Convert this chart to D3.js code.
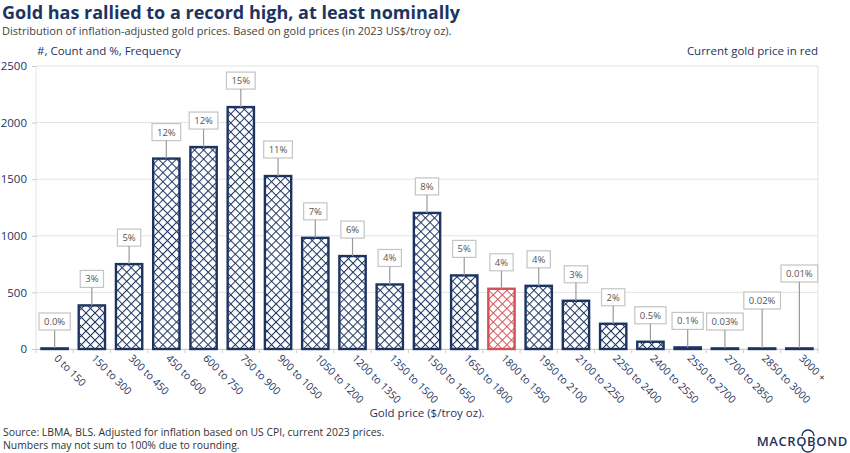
<!DOCTYPE html>
<html><head><meta charset="utf-8">
<script src="https://cdn.jsdelivr.net/npm/d3@7"></script>
<style>
html,body{margin:0;padding:0;background:#fff;}
svg{display:block;font-family:"Open Sans","Noto Sans",sans-serif;}
</style></head>
<body><svg id="c" width="850" height="453"></svg>
<script>
const categories = ["0 to 150","150 to 300","300 to 450","450 to 600","600 to 750","750 to 900","900 to 1050","1050 to 1200","1200 to 1350","1350 to 1500","1500 to 1650","1650 to 1800","1800 to 1950","1950 to 2100","2100 to 2250","2250 to 2400","2400 to 2550","2550 to 2700","2700 to 2850","2850 to 3000","3000 +"];
const counts = [4, 385, 750, 1682, 1784, 2137, 1528, 982, 821, 570, 1202, 650, 532, 558, 426, 223, 64, 14, 4, 3, 2];
const freqLabels = ["0.0%","3%","5%","12%","12%","15%","11%","7%","6%","4%","8%","5%","4%","4%","3%","2%","0.5%","0.1%","0.03%","0.02%","0.01%"];
const yTicks = [0, 500, 1000, 1500, 2000, 2500];
const currentCategory = "1800 to 1950";
</script>
<script>
(function(){
// extra label lift for crowded tail labels (styling)
const extraLift = {"2850 to 3000":21, "3000 +":48};

const svg = d3.select("#c");
const navy = "#1d3461", red = "#d4515a", grid = "#e3e3e3";
const L = 36, R = 818, T = 66, B = 349;

const defs = svg.append("defs");
function pat(id, col){
  const s = 6.4;
  const p = defs.append("pattern").attr("id",id).attr("patternUnits","userSpaceOnUse")
    .attr("width",s).attr("height",s).attr("patternTransform","rotate(45)");
  p.append("rect").attr("width",s).attr("height",s).attr("fill","#fff");
  p.append("line").attr("x1",0).attr("y1",0).attr("x2",0).attr("y2",s).attr("stroke",col).attr("stroke-width",2);
  p.append("line").attr("x1",0).attr("y1",0).attr("x2",s).attr("y2",0).attr("stroke",col).attr("stroke-width",2);
}
pat("hn", navy); pat("hr", red);

const x = d3.scaleBand().domain(categories).range([L,R]).paddingInner(0.24).paddingOuter(0.12);
const y = d3.scaleLinear().domain([0,2500]).range([B,T]);

// title
svg.append("text").attr("x",2).attr("y",19).attr("fill",navy).attr("font-size",18).attr("font-weight",700)
  .text("Gold has rallied to a record high, at least nominally");
svg.append("text").attr("x",2).attr("y",35).attr("fill","#444").attr("font-size",11)
  .text("Distribution of inflation-adjusted gold prices. Based on gold prices (in 2023 US$/troy oz).");
svg.append("text").attr("x",37).attr("y",55).attr("fill",navy).attr("font-size",11.5)
  .text("#, Count and %, Frequency");
svg.append("text").attr("x",R).attr("y",55).attr("text-anchor","end").attr("fill",navy).attr("font-size",11.5)
  .text("Current gold price in red");

// gridlines
svg.append("g").selectAll("line").data(yTicks).join("line")
  .attr("x1",L).attr("x2",R).attr("y1",d=>y(d)).attr("y2",d=>y(d)).attr("stroke",grid).attr("stroke-width",1);
svg.append("line").attr("x1",L).attr("x2",L).attr("y1",T).attr("y2",B).attr("stroke",grid);
svg.append("line").attr("x1",R).attr("x2",R).attr("y1",T).attr("y2",B).attr("stroke",grid);

// y axis
const ya = svg.append("g").attr("transform",`translate(${L},0)`)
  .call(d3.axisLeft(y).tickValues(yTicks).tickSize(4).tickPadding(5).tickFormat(d3.format("d")));
ya.select(".domain").remove();
ya.selectAll(".tick line").attr("stroke","#ccc");
ya.selectAll("text").attr("fill",navy).attr("font-size",11.5).attr("font-family","'Open Sans',sans-serif");

// x axis
const step = x.step();
const xa = svg.append("g").attr("transform",`translate(0,${B})`)
  .call(d3.axisBottom(x).tickSize(0).tickPadding(0));
xa.select(".domain").attr("stroke","#ccc");
xa.selectAll(".tick text").attr("fill",navy).attr("font-size",10.5).attr("font-family","'Open Sans',sans-serif")
  .attr("text-anchor","start").attr("dy",0).attr("transform","translate(-1,10) rotate(45)");
// boundary ticks
const x0 = x(categories[0]) - step*x.paddingInner()/2;
svg.append("g").selectAll("line").data(d3.range(categories.length+1)).join("line")
  .attr("x1",i=>x0 + i*step).attr("x2",i=>x0 + i*step)
  .attr("y1",B).attr("y2",B+4).attr("stroke","#ccc");

// bars
const isCur = d=>d===currentCategory;
svg.append("g").selectAll("rect").data(categories).join("rect")
  .attr("x",d=>x(d)+1).attr("width",x.bandwidth()-2)
  .attr("y",(d,i)=>Math.min(y(counts[i]), B-0.6)).attr("height",(d,i)=>Math.max(B-y(counts[i]),0.6))
  .attr("fill",d=>isCur(d)?"url(#hr)":"url(#hn)")
  .attr("stroke",d=>isCur(d)?red:navy).attr("stroke-width",2.4);

// labels
const lg = svg.append("g");
categories.forEach((d,i)=>{
  const cx = x(d)+x.bandwidth()/2;
  const top = Math.min(y(counts[i]), B-1);
  const boxB = top - 18 - (extraLift[d]||0);
  const boxH = 17;
  lg.append("line").attr("x1",cx).attr("x2",cx).attr("y1",top).attr("y2",boxB).attr("stroke","#9a9a9a").attr("stroke-width",1.2);
  const t = lg.append("text").attr("x",cx).attr("y",boxB-5).attr("text-anchor","middle")
    .attr("fill","#555").attr("font-size",9.5).text(freqLabels[i]);
  const w = t.node().getComputedTextLength()+10;
  lg.insert("rect","text").attr("x",cx-w/2).attr("y",boxB-boxH).attr("width",w).attr("height",boxH)
    .attr("fill","#fff").attr("stroke","#c4c4c4").attr("stroke-width",1.2);
});

// x title
svg.append("text").attr("x",(L+R)/2).attr("y",417).attr("text-anchor","middle").attr("fill",navy).attr("font-size",11.5)
  .text("Gold price ($/troy oz).");
// source
svg.append("text").attr("x",3).attr("y",436).attr("fill","#333").attr("font-size",10.4)
  .text("Source: LBMA, BLS. Adjusted for inflation based on US CPI, current 2023 prices.");
svg.append("text").attr("x",3).attr("y",449).attr("fill","#333").attr("font-size",10.4)
  .text("Numbers may not sum to 100% due to rounding.");
// logo
svg.append("text").attr("x",848).attr("y",446).attr("text-anchor","end").attr("fill",navy)
  .attr("font-size",13).attr("font-weight",600).attr("letter-spacing",0.6).text("MACROBOND");
svg.append("path").attr("d","M 802 436 A 6 6 0 0 1 814 436").attr("fill","none").attr("stroke",navy).attr("stroke-width",1.4);
svg.append("path").attr("d","M 802 446 A 6 6 0 0 0 814 446").attr("fill","none").attr("stroke",navy).attr("stroke-width",1.4);
})();
</script>
</body></html>
